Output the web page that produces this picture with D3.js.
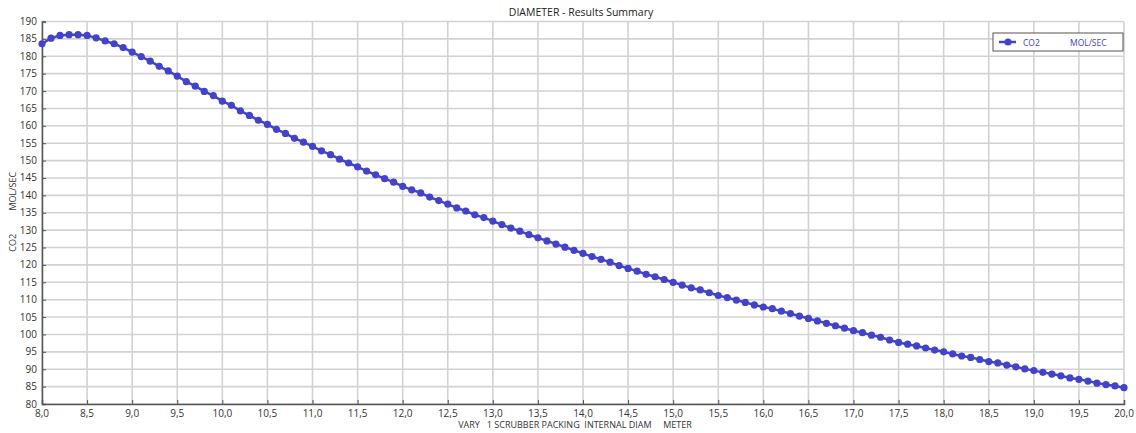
<!DOCTYPE html>
<html>
<head>
<meta charset="utf-8">
<script src="https://cdn.jsdelivr.net/npm/d3@7"></script>
<style>
  body { margin: 0; background: #fff; }
  svg text { font-family: "Open Sans", "DejaVu Sans", sans-serif; }
</style>
</head>
<body>
<svg id="chart" width="1136" height="433"></svg>
<script>
//
// Data
//
const title = 'DIAMETER - Results Summary';
const xTitle = 'VARY   1 SCRUBBER PACKING  INTERNAL DIAM     METER';
const yTitle = 'CO2          MOL/SEC';
const seriesName = 'CO2';
const seriesUnit = 'MOL/SEC';

// diameter, 8.0 .. 20.0 in steps of 0.1
const diameter = d3.range(80, 201).map(d => d / 10);

// CO2 (MOL/SEC)
const co2 = [
  183.6, 185.2, 186.0, 186.2, 186.2, 186.0, 185.3, 184.4, 183.6, 182.5,
  181.2, 179.9, 178.6, 177.1, 175.8, 174.3, 172.7, 171.4, 169.9, 168.7,
  167.1, 165.9, 164.3, 163.0, 161.6, 160.4, 159.0, 157.8, 156.4, 155.3,
  154.1, 152.8, 151.7, 150.4, 149.3, 148.2, 147.0, 145.9, 144.8, 143.8,
  142.6, 141.6, 140.7, 139.5, 138.5, 137.5, 136.4, 135.5, 134.4, 133.6,
  132.6, 131.6, 130.6, 129.7, 128.7, 127.8, 126.9, 126.0, 125.1, 124.2,
  123.3, 122.4, 121.6, 120.8, 119.8, 119.0, 118.2, 117.3, 116.6, 115.8,
  115.0, 114.2, 113.4, 112.8, 112.0, 111.2, 110.6, 109.9, 109.2, 108.5,
  107.9, 107.4, 106.7, 106.0, 105.3, 104.6, 103.9, 103.2, 102.5, 101.8,
  101.1, 100.5, 99.8, 99.2, 98.4, 97.7, 97.2, 96.7, 96.1, 95.5,
  95.0, 94.4, 93.8, 93.4, 92.8, 92.2, 91.8, 91.2, 90.7, 90.1,
  89.6, 89.1, 88.6, 88.1, 87.5, 87.1, 86.6, 86.0, 85.6, 85.2,
  84.7
];

const xTicks = d3.range(16, 41).map(d => d / 2);   // 8.0 .. 20.0
const yTicks = d3.range(80, 191, 5);                // 80 .. 190

//
// Layout
//
const width = 1136, height = 433;
const margin = {top: 21.5, right: 12, bottom: 29, left: 42};
const colorSeries = '#4343c9';
const colorGrid = '#d2d2d2';
const colorAxis = '#555';

const svg = d3.select('#chart');

const x = d3.scaleLinear().domain([8, 20]).range([margin.left, width - margin.right]);
const y = d3.scaleLinear().domain([80, 190]).range([height - margin.bottom, margin.top]);

const fmt = v => d3.format('.1f')(v).replace('.', ',');

// grid
svg.append('g')
  .selectAll('line')
  .data(xTicks)
  .join('line')
  .attr('x1', d => x(d)).attr('x2', d => x(d))
  .attr('y1', y(190)).attr('y2', y(80))
  .attr('stroke', colorGrid).attr('stroke-width', 1.6);

svg.append('g')
  .selectAll('line')
  .data(yTicks)
  .join('line')
  .attr('x1', x(8)).attr('x2', x(20))
  .attr('y1', d => y(d)).attr('y2', d => y(d))
  .attr('stroke', colorGrid).attr('stroke-width', 1.6);

// axes
const yAxis = svg.append('g')
  .attr('transform', `translate(${x(8)},0)`)
  .call(d3.axisRight(y).tickValues(yTicks).tickSize(4).tickFormat(''));
yAxis.select('.domain').attr('stroke', colorAxis).attr('stroke-width', 1.5);
yAxis.selectAll('.tick line').attr('stroke', colorAxis);

svg.append('g')
  .selectAll('text')
  .data(yTicks)
  .join('text')
  .attr('x', x(8) - 5)
  .attr('y', d => y(d))
  .attr('dy', '0.35em')
  .attr('text-anchor', 'end')
  .attr('font-size', 10)
  .attr('fill', '#333')
  .text(d => d);

const xAxis = svg.append('g')
  .attr('transform', `translate(0,${y(80)})`)
  .call(d3.axisTop(x).tickValues(xTicks).tickSize(4).tickFormat(''));
xAxis.select('.domain').attr('stroke', colorAxis).attr('stroke-width', 1.5);
xAxis.selectAll('.tick line').attr('stroke', colorAxis);

svg.append('g')
  .selectAll('text')
  .data(xTicks)
  .join('text')
  .attr('x', d => x(d))
  .attr('y', y(80) + 13)
  .attr('text-anchor', 'middle')
  .attr('font-size', 10)
  .attr('fill', '#333')
  .text(d => fmt(d));

// titles
svg.append('text')
  .attr('x', 581).attr('y', 16)
  .attr('text-anchor', 'middle')
  .attr('font-size', 10.5)
  .attr('fill', '#222')
  .text(title);

svg.append('text')
  .attr('x', 575).attr('y', 428)
  .attr('text-anchor', 'middle')
  .attr('font-size', 9)
  .attr('fill', '#333')
  .style('white-space', 'pre')
  .text(xTitle);

svg.append('text')
  .attr('transform', `translate(16,${(y(80) + y(190)) / 2 - 1}) rotate(-90)`)
  .attr('text-anchor', 'middle')
  .attr('font-size', 9)
  .attr('fill', '#333')
  .style('white-space', 'pre')
  .text(yTitle);

// series
const points = diameter.map((d, i) => [d, co2[i]]);

svg.append('path')
  .datum(points)
  .attr('fill', 'none')
  .attr('stroke', colorSeries)
  .attr('stroke-width', 2.5)
  .attr('d', d3.line().x(d => x(d[0])).y(d => y(d[1])));

svg.append('g')
  .selectAll('circle')
  .data(points)
  .join('circle')
  .attr('cx', d => x(d[0]))
  .attr('cy', d => y(d[1]))
  .attr('r', 3.6)
  .attr('fill', colorSeries);

// legend
const legend = svg.append('g').attr('transform', 'translate(993,33)');
legend.append('rect')
  .attr('width', 130).attr('height', 18)
  .attr('fill', '#fff')
  .attr('stroke', '#555').attr('stroke-width', 1);
legend.append('line')
  .attr('x1', 6).attr('x2', 23).attr('y1', 9).attr('y2', 9)
  .attr('stroke', colorSeries).attr('stroke-width', 2.5);
legend.append('circle')
  .attr('cx', 15).attr('cy', 9).attr('r', 3.6)
  .attr('fill', colorSeries);
legend.append('text')
  .attr('x', 30).attr('y', 12.5)
  .attr('font-size', 8.5)
  .attr('fill', colorSeries)
  .text(seriesName);
legend.append('text')
  .attr('x', 77).attr('y', 12.5)
  .attr('font-size', 8.5)
  .attr('fill', colorSeries)
  .text(seriesUnit);
</script>
</body>
</html>
